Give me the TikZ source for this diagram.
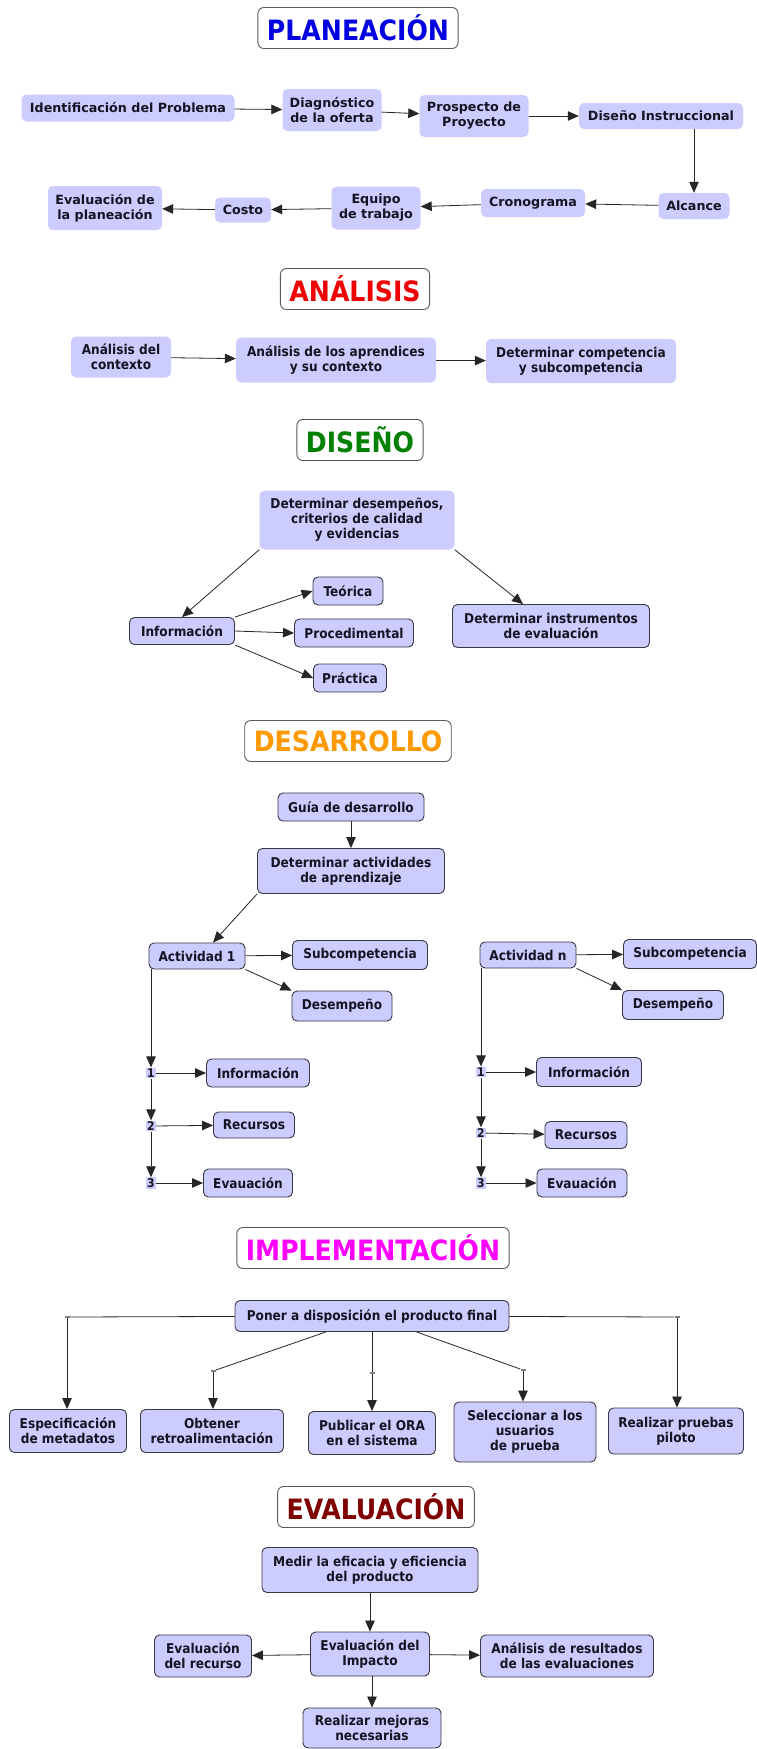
\documentclass[tikz,border=0pt]{standalone}
\usepackage{fontspec}
\setmainfont{DejaVu Sans}
\newfontfamily\condfont{DejaVu Sans Condensed}
\usepackage{xcolor}
\usepackage{tikz}
\usetikzlibrary{arrows.meta,positioning,calc}
\definecolor{lav}{RGB}{204,204,255}
\definecolor{edge}{RGB}{55,55,70}
\definecolor{ink}{RGB}{20,20,35}
\definecolor{tplan}{RGB}{0,0,225}
\definecolor{tanal}{RGB}{240,0,0}
\definecolor{tdis}{RGB}{0,128,0}
\definecolor{tdes}{RGB}{255,153,0}
\definecolor{timp}{RGB}{255,0,255}
\definecolor{teval}{RGB}{128,0,0}

\begin{document}
\begin{tikzpicture}[
  x=1pt, y=-1pt,
  title/.style={draw=black!65, fill=white, rounded corners=6pt, line width=0.9pt,
                inner xsep=9pt, minimum height=41pt,
                font=\condfont\bfseries\fontsize{28}{30}\selectfont},
  sz/.style 2 args={minimum width=#1pt, minimum height=#2pt},
  plan/.style={fill=lav, rounded corners=5pt, align=center, inner sep=3pt, text=ink,
               font=\bfseries\fontsize{12.7}{15}\selectfont},
  anal/.style={plan, font=\condfont\bfseries\fontsize{13.5}{15}\selectfont},
  box/.style={anal, draw=edge, line width=0.9pt},
  num/.style={fill=lav, inner sep=1pt, text=ink, font=\condfont\bfseries\fontsize{12}{12}\selectfont},
  joint/.style={fill=black!50, inner sep=0pt, minimum width=5pt, minimum height=2.5pt},
  arrow/.style={-{Triangle[length=11pt,width=9.5pt]}, draw=black!85, line width=0.8pt},
  link/.style={draw=black!85, line width=0.8pt},
]
  \fill[white] (0,0) rectangle (757,1749);
  \useasboundingbox (0,0) rectangle (757,1749);

  \node[title, text=tplan] (ptitle) at (358,28) {PLANEACIÓN};
  \node[plan, sz={213}{27}] (ident)   at (128,108) {Identificación del Problema};
  \node[plan, sz={99}{42}]  (diag)    at (332,110) {Diagnóstico\\de la oferta};
  \node[plan, sz={109}{42}] (prosp)   at (474,116) {Prospecto de\\Proyecto};
  \node[plan, sz={164}{26}] (disinst) at (661,116) {Diseño Instruccional};
  \node[plan, sz={71}{26}]  (alc)     at (694,206) {Alcance};
  \node[plan, sz={104}{28}] (crono)   at (533,203) {Cronograma};
  \node[plan, sz={89}{43}]  (equipo)  at (376,208) {Equipo\\de trabajo};
  \node[plan, sz={56}{25}]  (costo)   at (243,210) {Costo};
  \node[plan, sz={114}{44}] (evalpl)  at (105,208) {Evaluación de\\la planeación};

  \draw[arrow] (ident) -- (diag);
  \draw[arrow] (diag) -- (prosp);
  \draw[arrow] (prosp) -- (disinst);
  \draw[arrow] (alc |- disinst.south) -- (alc);
  \draw[arrow] (alc) -- (crono);
  \draw[arrow] (crono) -- (equipo);
  \draw[arrow] (equipo) -- (costo);
  \draw[arrow] (costo) -- (evalpl);

  \node[title, text=tanal] (atitle) at (355,289) {ANÁLISIS};
  \node[anal, sz={100}{41}] (actx)  at (121,357) {Análisis del\\contexto};
  \node[anal, sz={200}{45}] (aapr)  at (336,360) {Análisis de los aprendices\\y su contexto};
  \node[anal, sz={190}{44}] (acomp) at (581,361) {Determinar competencia\\y subcompetencia};

  \draw[arrow] (actx) -- (aapr);
  \draw[arrow] (aapr) -- (acomp);

  \node[title, text=tdis] (dtitle) at (360,440) {DISEÑO};
  \node[anal, sz={195}{59}] (ddes)  at (357,520) {Determinar desempeños,\\criterios de calidad\\y evidencias};
  \node[box, sz={105}{27}]  (dinfo) at (182,631) {Información};
  \node[box, sz={70}{28}]   (dteo)  at (348,591) {Teórica};
  \node[box, sz={119}{28}]  (dproc) at (354,633) {Procedimental};
  \node[box, sz={73}{28}]   (dprac) at (350,678) {Práctica};
  \node[box, sz={197}{43}]  (dinst) at (551,626) {Determinar instrumentos\\de evaluación};

  \draw[arrow] (ddes.south west) -- (dinfo.north);
  \draw[arrow] (ddes.south east) -- ($(dinst.north)+(-28,0)$);
  \draw[arrow] (dinfo.north east) -- (dteo.west);
  \draw[arrow] (dinfo.east) -- (dproc.west);
  \draw[arrow] (dinfo.south east) -- (dprac.west);

  \node[title, text=tdes] (rtitle) at (348,741) {DESARROLLO};
  \node[box, sz={146}{28}] (guia) at (351,807) {Guía de desarrollo};
  \node[box, sz={187}{45}] (ract) at (351,871) {Determinar actividades\\de aprendizaje};
  \node[box, sz={96}{26}]  (act1) at (197,956) {Actividad 1};
  \node[box, sz={135}{29}] (sub1) at (360,955) {Subcompetencia};
  \node[box, sz={100}{30}] (des1) at (342,1006) {Desempeño};
  \node[box, sz={96}{26}]  (actn) at (528,955) {Actividad n};
  \node[box, sz={133}{29}] (subn) at (690,954) {Subcompetencia};
  \node[box, sz={101}{29}] (desn) at (673,1005) {Desempeño};

  \node[num] (n11) at (151,1073) {1};
  \node[num] (n12) at (151,1126) {2};
  \node[num] (n13) at (151,1183) {3};
  \node[box, sz={103}{28}] (infoL) at (258,1073) {Información};
  \node[box, sz={81}{26}]  (recL)  at (254,1125) {Recursos};
  \node[box, sz={89}{28}]  (evaL)  at (248,1183) {Evauación};
  \node[num] (nn1) at (481,1072) {1};
  \node[num] (nn2) at (481,1133) {2};
  \node[num] (nn3) at (481,1183) {3};
  \node[box, sz={105}{29}] (infoR) at (589,1072) {Información};
  \node[box, sz={82}{27}]  (recR)  at (586,1135) {Recursos};
  \node[box, sz={90}{28}]  (evaR)  at (582,1183) {Evauación};

  \draw[arrow] (guia) -- (ract);
  \draw[arrow] (ract.south west) -- ($(act1.north)+(16,0)$);
  \draw[arrow] (act1) -- (sub1);
  \draw[arrow] (act1.south east) -- (des1.north west);
  \draw[arrow] (actn) -- (subn);
  \draw[arrow] (actn.south east) -- (desn.north west);
  \draw[arrow] (n11 |- act1.south) -- (n11);
  \draw[arrow] (n11) -- (n12);
  \draw[arrow] (n12) -- (n13);
  \draw[arrow] (n11) -- (infoL);
  \draw[arrow] (n12) -- (recL);
  \draw[arrow] (n13) -- (evaL);
  \draw[arrow] (nn1 |- actn.south) -- (nn1);
  \draw[arrow] (nn1) -- (nn2);
  \draw[arrow] (nn2) -- (nn3);
  \draw[arrow] (nn1) -- (infoR);
  \draw[arrow] (nn2) -- (recR);
  \draw[arrow] (nn3) -- (evaR);

  \node[title, text=timp] (ititle) at (373,1248) {IMPLEMENTACIÓN};
  \node[box, sz={274}{31}] (poner) at (372,1316) {Poner a disposición el producto final};
  \node[box, sz={117}{43}] (iesp)  at (68,1431)  {Especificación\\de metadatos};
  \node[box, sz={143}{43}] (iobt)  at (212,1431) {Obtener\\retroalimentación};
  \node[box, sz={127}{43}] (ipub)  at (372,1433) {Publicar el ORA\\en el sistema};
  \node[box, sz={142}{60}] (isel)  at (525,1432) {Seleccionar a los\\usuarios\\de prueba};
  \node[box, sz={135}{46}] (ireal) at (676,1431) {Realizar pruebas\\piloto};
  \node[joint] (m1) at (67,1317) {};
  \node[joint] (m2) at (213,1371) {};
  \node[joint] (m3) at (372,1373) {};
  \node[joint] (m4) at (523,1370) {};
  \node[joint] (m5) at (677,1317) {};

  \draw[link] (poner) -- (m1);
  \draw[link] (poner) -- (m2);
  \draw[link] (poner) -- (m3);
  \draw[link] (poner) -- (m4);
  \draw[link] (poner) -- (m5);
  \draw[arrow] (m1) -- (m1 |- iesp.north);
  \draw[arrow] (m2) -- (m2 |- iobt.north);
  \draw[arrow] (m3) -- (m3 |- ipub.north);
  \draw[arrow] (m4) -- (m4 |- isel.north);
  \draw[arrow] (m5) -- (m5 |- ireal.north);

  \node[title, text=teval] (etitle) at (376,1507) {EVALUACIÓN};
  \node[box, sz={216}{45}] (emed) at (370,1570) {Medir la eficacia y eficiencia\\del producto};
  \node[box, sz={119}{44}] (eimp) at (370,1654) {Evaluación del\\Impacto};
  \node[box, sz={97}{42}]  (erec) at (203,1656) {Evaluación\\del recurso};
  \node[box, sz={173}{42}] (eres) at (567,1656) {Análisis de resultados\\de las evaluaciones};
  \node[box, sz={138}{40}] (emej) at (372,1728) {Realizar mejoras\\necesarias};

  \draw[arrow] (emed) -- (eimp);
  \draw[arrow] (eimp) -- (erec);
  \draw[arrow] (eimp) -- (eres);
  \draw[arrow] (emej |- eimp.south) -- (emej);
\end{tikzpicture}
\end{document}
